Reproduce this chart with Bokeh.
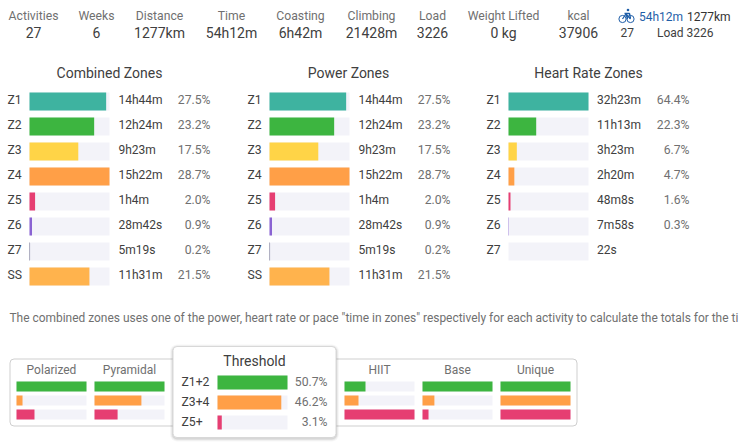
from bokeh.plotting import figure
from bokeh.models import Range1d
from bokeh.core.properties import value
from bokeh.embed import file_html
from bokeh.resources import INLINE

summary_labels = ["Activities", "Weeks", "Distance", "Time", "Coasting", "Climbing", "Load", "Weight Lifted", "kcal"]
summary_values = ["27", "6", "1277km", "54h12m", "6h42m", "21428m", "3226", "0 kg", "37906"]
summary_x = [33, 96, 159, 231, 300, 371, 432, 503, 578]

zones = ["Z1", "Z2", "Z3", "Z4", "Z5", "Z6", "Z7", "SS"]
combined_pct = [27.5, 23.2, 17.5, 28.7, 2.0, 0.9, 0.2, 21.5]
combined_time = ["14h44m", "12h24m", "9h23m", "15h22m", "1h4m", "28m42s", "5m19s", "11h31m"]
power_pct = [27.5, 23.2, 17.5, 28.7, 2.0, 0.9, 0.2, 21.5]
power_time = ["14h44m", "12h24m", "9h23m", "15h22m", "1h4m", "28m42s", "5m19s", "11h31m"]
hr_zones = ["Z1", "Z2", "Z3", "Z4", "Z5", "Z6", "Z7"]
hr_pct = [64.4, 22.3, 6.7, 4.7, 1.6, 0.3, 0.0]
hr_time = ["32h23m", "11h13m", "3h23m", "2h20m", "48m8s", "7m58s", "22s"]
hr_pct_labels = ["64.4%", "22.3%", "6.7%", "4.7%", "1.6%", "0.3%", ""]
zone_colors = ["#3eb3a0", "#3db540", "#ffd447", "#ff9f47", "#e63e72", "#8a63d2", "#6a6a8a", "#ffb34d"]

note = ('The combined zones uses one of the power, heart rate or pace "time in zones" respectively '
        'for each activity to calculate the totals for the ti')

dist_names = ["Polarized", "Pyramidal", "HIIT", "Base", "Unique"]
polarized = [100, 8.6, 25.7]
pyramidal = [100, 67, 33]
hiit = [30, 20, 100]
base = [100, 17, 8.6]
unique = [100, 100, 100]
dist_colors = ["#3db540", "#ff9f47", "#e63e72"]
thr_labels = ["Z1+2", "Z3+4", "Z5+"]
thr_pct = [50.7, 46.2, 3.1]

TRACK = "#f3f3f9"
DARK = "#404040"
GREY = "#707070"
FONT = value("Roboto")
X0, X1, Y0, Y1 = 0, 740, 0, 448

p = figure(width=X1 - X0, height=Y1 - Y0, output_backend="svg", toolbar_location=None,
           x_range=Range1d(X0, X1), y_range=Range1d(Y1, Y0), x_axis_type=None, y_axis_type=None,
           min_border=0, outline_line_color=None, background_fill_color="white")
p.grid.visible = False


def txt(x, y, s, size, color=DARK, align="left"):
    p.text(x=[x], y=[y - 1], text=[s], text_font=FONT, text_font_size=f"{size}px", text_color=color,
           text_align=align, text_baseline="middle")


def scale(name, left_px, px_per_unit):
    p.extra_x_ranges[name] = Range1d((X0 - left_px) / px_per_unit, (X1 - left_px) / px_per_unit)
    return name


for lab, val, x in zip(summary_labels, summary_values, summary_x):
    txt(x, 16, lab, 12.2, GREY, "center")
    txt(x, 33, val, 14, DARK, "center")

# bike icon
BLUE = "#1f5ea8"
for cx in (622, 630):
    p.circle(x=[cx], y=[18.5], radius=3.6, fill_color=None, line_color=BLUE, line_width=1)
p.multi_line(xs=[[622, 625.5, 630], [625.5, 627], [624, 629, 630]], ys=[[18.5, 13.5, 18.5], [13.5, 18.5], [13, 13, 18]],
             line_color=BLUE, line_width=1.3)
p.circle(x=[627.5], y=[9.5], radius=1.3, fill_color=BLUE, line_color=None)
txt(638.5, 17.5, "54h12m", 12, BLUE)
txt(686.5, 17.5, "1277km", 12, "#333333")
txt(620, 33, "27", 12, DARK)
txt(656.5, 33, "Load 3226", 12, DARK)

panels = [
    ("Combined Zones", 109, 7, 29, 118, 210, zones, combined_pct, combined_time,
     [f"{v}%" for v in combined_pct]),
    ("Power Zones", 348, 247, 269, 358, 450, zones, power_pct, power_time,
     [f"{v}%" for v in power_pct]),
    ("Heart Rate Zones", 588, 486, 508, 596.5, 689, hr_zones, hr_pct, hr_time, hr_pct_labels),
]
for k, (title, tx, lx, bx, ty, px, zs, pct, times, plabs) in enumerate(panels):
    txt(tx, 73, title, 14, DARK, "center")
    rng = scale(f"zone{k}", bx, 80 / max(pct))
    for i, z in enumerate(zs):
        y = 101 + 25 * i
        p.quad(left=[0], right=[max(pct)], top=[y - 9], bottom=[y + 9], fill_color=TRACK, line_color=None, x_range_name=rng)
        if pct[i] > 0:
            p.quad(left=[0], right=[pct[i]], top=[y - 9], bottom=[y + 9], fill_color=zone_colors[i], line_color=None, x_range_name=rng)
        txt(lx, y - 0.5, z, 12.2, DARK)
        txt(ty, y - 0.5, times[i], 12, DARK)
        txt(px, y - 0.5, plabs[i], 12.2, GREY, "right")

txt(9, 318, note, 11.95, GREY)

# distribution card
p.quad(left=[9.5], right=[576.5], top=[358.5], bottom=[425.5], fill_color="white", line_color="#cfcfcf", line_width=1, border_radius=4)
dist_x = [16, 94, 344, 422, 500]
for name, vals, x in zip(dist_names, [polarized, pyramidal, hiit, base, unique], dist_x):
    txt(x + 35, 370, name, 12, GREY, "center")
    rng = scale(f"dist{x}", x, 0.7)
    for i, v in enumerate(vals):
        y = 386 + 14 * i
        p.quad(left=[0], right=[100], top=[y - 5], bottom=[y + 5], fill_color=TRACK, line_color=None, x_range_name=rng)
        p.quad(left=[0], right=[v], top=[y - 5], bottom=[y + 5], fill_color=dist_colors[i], line_color=None, x_range_name=rng)

# threshold popup card with soft shadow
for g, a in [(3, 0.03), (2, 0.05), (1, 0.08)]:
    p.quad(left=[172.5 - g], right=[335.5 + g], top=[346 - g + 1], bottom=[437 + g + 1], fill_color="#000000", fill_alpha=a,
           line_color=None, border_radius=4 + g)
p.quad(left=[172.5], right=[335.5], top=[346], bottom=[437], fill_color="white", line_color="#d8d8d8", line_width=1, border_radius=4)
txt(254, 361, "Threshold", 14, DARK, "center")
rng = scale("thr", 217, 70 / max(thr_pct))
for i, (l, v) in enumerate(zip(thr_labels, thr_pct)):
    y = 382 + 20 * i
    txt(181, y, l, 12.2, DARK)
    p.quad(left=[0], right=[max(thr_pct)], top=[y - 7], bottom=[y + 7], fill_color=TRACK, line_color=None, x_range_name=rng)
    p.quad(left=[0], right=[v], top=[y - 7], bottom=[y + 7], fill_color=dist_colors[i], line_color=None, x_range_name=rng)
    txt(327, y, f"{v}%", 12.2, GREY, "right")

open("out.html", "w").write(file_html(p, INLINE))
